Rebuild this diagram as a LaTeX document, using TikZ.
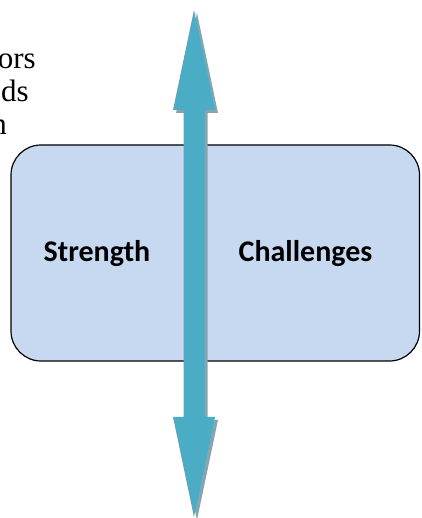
\documentclass[tikz,border=0pt]{standalone}
\usepackage{fontspec}
\setmainfont{Liberation Serif}
\newfontfamily\labelfont{Carlito}
\definecolor{boxfill}{RGB}{198,217,241}
\definecolor{arrowblue}{RGB}{75,172,198}
\definecolor{arrowshadow}{RGB}{140,162,172}
\tikzset{
  panel/.style={draw=black, line width=1.2pt, fill=boxfill, rounded corners=30pt, inner sep=0pt},
  panellabel/.style={font=\labelfont\bfseries\fontsize{30}{36}\selectfont, anchor=base, inner sep=0pt},
  sidetext/.style={font=\fontsize{31}{36}\selectfont, anchor=base east, inner sep=0pt},
  arrowbody/.style={fill=arrowblue, draw=none},
  arrowshade/.style={fill=arrowshadow, draw=none}
}
\begin{document}
\begin{tikzpicture}[x=1pt,y=1pt]
\useasboundingbox (0,0) rectangle (421,518);
\clip (0,0) rectangle (421,518);
% side text (clipped at left)
\node[sidetext] (t1) at (36,449) {ors};
\node[sidetext] (t2) at (29,416) {ds};
\node[sidetext] (t3) at (7,383) {n};
% box
\node[panel, minimum width=408.5pt, minimum height=216pt] (box) at (215.25,265) {};
\node[panellabel] (strength) at (97,256) {Strength};
\node[panellabel] (challenges) at (305.5,256) {Challenges};
% double arrow shadow
\fill[arrowshade, shift={(3,-3)}]
  (194,508) -- (215,408) -- (204.5,408) -- (204.5,101) -- (215,101) -- (194,1)
  -- (173,101) -- (183.5,101) -- (183.5,408) -- (173,408) -- cycle;
% double arrow
\fill[arrowbody]
  (194,508) -- (215,408) -- (204.5,408) -- (204.5,101) -- (215,101) -- (194,1)
  -- (173,101) -- (183.5,101) -- (183.5,408) -- (173,408) -- cycle;
\end{tikzpicture}
\end{document}
